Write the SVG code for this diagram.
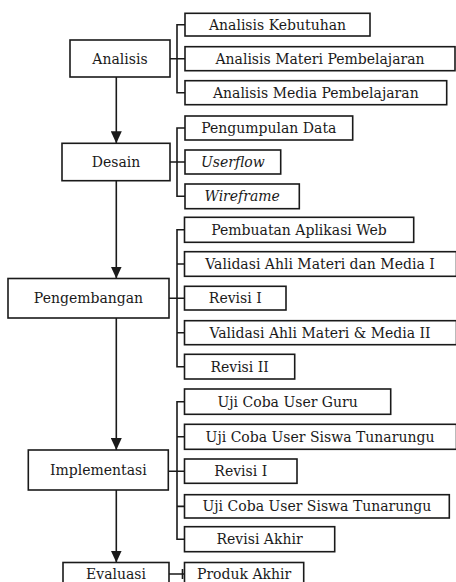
<svg xmlns="http://www.w3.org/2000/svg" width="456" height="582" viewBox="0 0 456 582">
<defs>
<style>
.box{fill:#fff;stroke:#1a1a1a;stroke-width:1.6}
.ln{fill:none;stroke:#1a1a1a;stroke-width:1.6}
text{font-family:"DejaVu Serif","Liberation Serif",serif;font-size:14px;fill:#1a1a1a;text-anchor:middle}
.it{font-style:italic}
</style>
<marker id="arr" markerUnits="userSpaceOnUse" markerWidth="12" markerHeight="11" refX="12" refY="5.5" orient="auto" viewBox="0 0 12 11">
<path d="M0,0 L12,5.5 L0,11 Z" fill="#1a1a1a"/>
</marker>
</defs>
<rect width="456" height="582" fill="#fff"/>

<g id="connectors">
<line class="ln" x1="116.3" y1="77" x2="116.3" y2="143.3" marker-end="url(#arr)"/>
<line class="ln" x1="116.3" y1="180.7" x2="116.3" y2="278.5" marker-end="url(#arr)"/>
<line class="ln" x1="116.3" y1="318" x2="116.3" y2="450" marker-end="url(#arr)"/>
<line class="ln" x1="116.3" y1="490" x2="116.3" y2="562.5" marker-end="url(#arr)"/>
<path class="ln" d="M185,24.7 H177 V92.7 H185 M170,58.7 H185"/>
<path class="ln" d="M185,128 H177 V196.3 H185 M170,162 H185"/>
<path class="ln" d="M184.5,229.8 H177 V366.7 H184.5 M169,298.2 H184.5 M177,264 H184.5 M177,332.7 H184.5"/>
<path class="ln" d="M184.5,401.7 H177 V539.2 H184.5 M168.3,471.2 H184.5 M177,436.8 H184.5 M177,506.4 H184.5"/>
<path class="ln" d="M169,574 H184.5 M182.5,569 V579"/>
</g>

<g id="n-analisis"><rect class="box" x="70" y="40" width="100" height="37"/><text x="120" y="63.5">Analisis</text></g>
<g id="n-desain"><rect class="box" x="62" y="143.3" width="108" height="37.4"/><text x="116" y="167">Desain</text></g>
<g id="n-pengembangan"><rect class="box" x="8" y="278.5" width="161" height="39.5"/><text x="88.5" y="303">Pengembangan</text></g>
<g id="n-implementasi"><rect class="box" x="28.3" y="450" width="140" height="40"/><text x="98.3" y="475">Implementasi</text></g>
<g id="n-evaluasi"><rect class="box" x="63" y="562.5" width="106" height="30"/><text x="116" y="578.5">Evaluasi</text></g>

<g id="s-kebutuhan"><rect class="box" x="185" y="13.3" width="185" height="22.7"/><text x="277.5" y="30">Analisis Kebutuhan</text></g>
<g id="s-materi"><rect class="box" x="185" y="46.7" width="270" height="24"/><text x="320" y="63.7">Analisis Materi Pembelajaran</text></g>
<g id="s-media"><rect class="box" x="185" y="80.7" width="261.7" height="24"/><text x="315.8" y="97.7">Analisis Media Pembelajaran</text></g>
<g id="s-pengumpulan"><rect class="box" x="185" y="116" width="167.7" height="24"/><text x="268.8" y="133">Pengumpulan Data</text></g>
<g id="s-userflow"><rect class="box" x="185" y="150" width="95.7" height="24"/><text class="it" x="232.8" y="167">Userflow</text></g>
<g id="s-wireframe"><rect class="box" x="185" y="184" width="114.3" height="24.7"/><text class="it" x="242.2" y="201.3">Wireframe</text></g>
<g id="s-pembuatan"><rect class="box" x="184.5" y="217.3" width="229.2" height="25"/><text x="299" y="234.8">Pembuatan Aplikasi Web</text></g>
<g id="s-validasi1"><rect class="box" x="184.5" y="251.7" width="272" height="24.6"/><text x="320" y="269">Validasi Ahli Materi dan Media I</text></g>
<g id="s-revisi1a"><rect class="box" x="184.5" y="286.3" width="101.5" height="23.7"/><text x="235.3" y="303.2">Revisi I</text></g>
<g id="s-validasi2"><rect class="box" x="184.5" y="320.7" width="272" height="24"/><text x="320" y="337.7">Validasi Ahli Materi &amp; Media II</text></g>
<g id="s-revisi2"><rect class="box" x="184.5" y="354.3" width="110.2" height="24.7"/><text x="239.6" y="371.7">Revisi II</text></g>
<g id="s-ujiguru"><rect class="box" x="184.5" y="389" width="206.2" height="25.3"/><text x="287.6" y="406.7">Uji Coba User Guru</text></g>
<g id="s-ujisiswa1"><rect class="box" x="184.5" y="424.3" width="272" height="25"/><text x="320" y="441.8">Uji Coba User Siswa Tunarungu</text></g>
<g id="s-revisi1b"><rect class="box" x="184.5" y="459" width="112.5" height="24.3"/><text x="240.8" y="476.2">Revisi I</text></g>
<g id="s-ujisiswa2"><rect class="box" x="184.5" y="494.7" width="264.8" height="23.3"/><text x="316.9" y="511.4">Uji Coba User Siswa Tunarungu</text></g>
<g id="s-revisiakhir"><rect class="box" x="184.5" y="526.7" width="150.2" height="25"/><text x="259.6" y="544.2">Revisi Akhir</text></g>
<g id="s-produk"><rect class="box" x="184.5" y="562.5" width="119.2" height="30"/><text x="244.1" y="579">Produk Akhir</text></g>
</svg>
